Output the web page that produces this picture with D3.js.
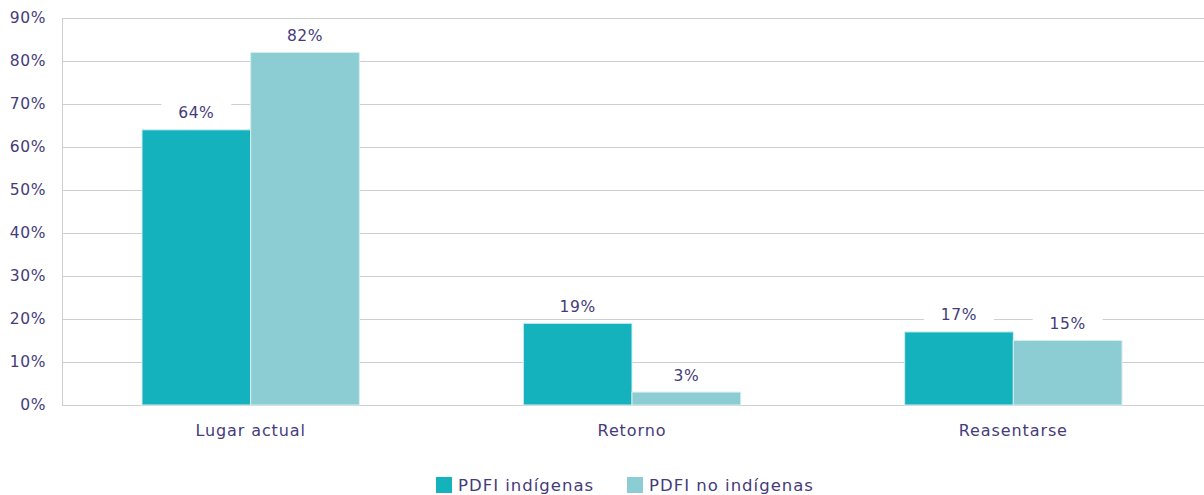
<!DOCTYPE html>
<html>
<head>
<meta charset="utf-8">
<script src="https://cdn.jsdelivr.net/npm/d3@7"></script>
<style>
  body { margin: 0; background: #fff; }
  svg text { font-family: "DejaVu Sans", "Noto Sans", sans-serif; fill: #453b7b; }
</style>
</head>
<body>
<svg id="chart" width="1204" height="495"></svg>
<script>
// Categories, series and tick labels
const categories = ["Lugar actual", "Retorno", "Reasentarse"];
const seriesNames = ["PDFI indígenas", "PDFI no indígenas"];
const indigenas = [64, 19, 17];
const noIndigenas = [82, 3, 15];
const yTicks = [0, 10, 20, 30, 40, 50, 60, 70, 80, 90];
const colors = ["#14b2bc", "#8ccdd4"];

const rows = categories.map((c, i) => ({ cat: c, values: [indigenas[i], noIndigenas[i]] }));

const svg = d3.select("#chart");
const W = 1204;
const axisX = 62;
const plotTop = 18;
const plotBottom = 405;
const font = "DejaVu Sans, Noto Sans, sans-serif";
const fs = 15.5;

const x0 = d3.scaleBand().domain(categories).range([60, W]).paddingInner(0.43).paddingOuter(0.215);
const x1 = d3.scaleBand().domain([0, 1]).range([0, x0.bandwidth()]);
const y = d3.scaleLinear().domain([0, 90]).range([plotBottom, plotTop]);

// Horizontal gridlines
svg.append("g").selectAll("line").data(yTicks).join("line")
  .attr("x1", axisX).attr("x2", W)
  .attr("y1", d => y(d) + 0.5).attr("y2", d => y(d) + 0.5)
  .attr("stroke", "#cfcfcf").attr("stroke-width", 1);

// Y axis line
svg.append("line")
  .attr("x1", axisX + 0.5).attr("x2", axisX + 0.5)
  .attr("y1", y(90)).attr("y2", plotBottom)
  .attr("stroke", "#cfcfcf");

// Y tick labels
const yAxis = d3.axisLeft(y).tickValues(yTicks).tickFormat(d => d + "%").tickSize(0).tickPadding(16);
const ya = svg.append("g").attr("transform", `translate(${axisX},0)`).call(yAxis);
ya.select(".domain").remove();
ya.selectAll("text").attr("font-size", fs).attr("font-family", font).attr("fill", "#453b7b")
  .attr("letter-spacing", 0.6);

// Bars
const groups = svg.append("g").selectAll("g").data(rows).join("g")
  .attr("transform", d => `translate(${x0(d.cat)},0)`);

groups.selectAll("rect").data(d => d.values.map((v, k) => ({ v, k }))).join("rect")
  .attr("x", d => x1(d.k))
  .attr("width", x1.bandwidth())
  .attr("y", d => y(d.v))
  .attr("height", d => plotBottom - y(d.v))
  .attr("fill", d => colors[d.k])
  .attr("stroke", "#d4eef0").attr("stroke-width", 1);

// Value labels with white backing
const lbl = groups.selectAll("g.lbl").data(d => d.values.map((v, k) => ({ v, k }))).join("g")
  .attr("class", "lbl")
  .attr("transform", d => `translate(${x1(d.k) + x1.bandwidth() / 2},${y(d.v) - 17})`);
lbl.append("rect")
  .attr("x", -35).attr("width", 70).attr("y", -11).attr("height", 22)
  .attr("fill", "#fff");
lbl.append("text")
  .attr("text-anchor", "middle").attr("dy", "0.35em")
  .attr("font-size", fs).attr("letter-spacing", 0.6)
  .text(d => d.v + "%");

// Category labels
svg.append("g").selectAll("text").data(categories).join("text")
  .attr("x", d => x0(d) + x0.bandwidth() / 2)
  .attr("y", 430).attr("dy", "0.35em")
  .attr("text-anchor", "middle").attr("font-size", 16).attr("letter-spacing", 0.9)
  .text(d => d);

// Legend
const legendX = [436, 627];
const leg = svg.append("g").selectAll("g").data(seriesNames).join("g")
  .attr("transform", (d, i) => `translate(${legendX[i]},477)`);
leg.append("rect").attr("width", 16).attr("height", 16).attr("fill", (d, i) => colors[i]);
leg.append("text").attr("x", 22).attr("y", 8).attr("dy", "0.35em")
  .attr("font-size", 16.5).attr("letter-spacing", 1).text(d => d);
</script>
</body>
</html>
